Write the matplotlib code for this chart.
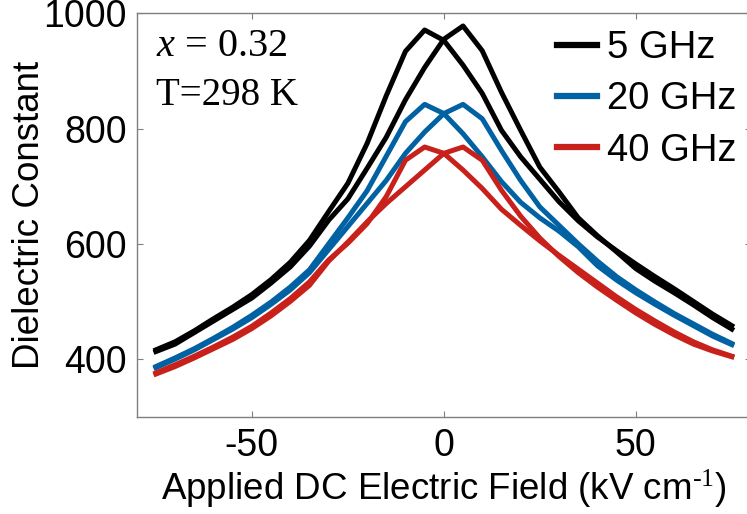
import numpy as np
import matplotlib
matplotlib.use("Agg")
import matplotlib.pyplot as plt

plt.rcParams["font.family"] = ["Liberation Sans", "DejaVu Sans"]
plt.rcParams["axes.unicode_minus"] = False
plt.rcParams["mathtext.fontset"] = "custom"
plt.rcParams["mathtext.rm"] = "Liberation Serif"
plt.rcParams["mathtext.it"] = "Liberation Serif:italic"

# Applied DC field (kV/cm), sampled every 5 kV/cm
field = np.arange(-75, 80, 5)

# Dielectric constant: branch with peak at negative field / at positive field
eps_5ghz_neg = [416, 430, 449, 470, 490, 512, 538, 568, 606, 656, 705, 774, 857, 934, 971, 953,
                910, 861, 797, 751, 712, 673, 640, 612, 588, 565, 543, 522, 500, 478, 458]
eps_5ghz_pos = [413, 426, 446, 466, 486, 506, 532, 560, 596, 641, 678, 731, 785, 850, 906, 955,
                978, 935, 863, 797, 733, 690, 645, 614, 586, 557, 535, 515, 494, 472, 452]

eps_20ghz_neg = [387, 402, 418, 436, 455, 476, 499, 525, 555, 600, 645, 692, 752, 812, 842, 826,
                 791, 751, 708, 672, 645, 622, 595, 562, 537, 515, 495, 476, 458, 440, 425]
eps_20ghz_pos = [385, 400, 416, 434, 452, 472, 495, 520, 550, 590, 630, 670, 710, 757, 794, 826,
                 842, 817, 762, 710, 664, 632, 600, 570, 543, 520, 499, 479, 461, 443, 427]

eps_40ghz_neg = [376, 390, 405, 421, 438, 457, 480, 505, 534, 572, 601, 635, 682, 745, 768, 757,
                 728, 696, 660, 632, 605, 580, 556, 532, 508, 486, 466, 447, 430, 416, 405]
eps_40ghz_pos = [374, 387, 402, 418, 434, 453, 475, 500, 528, 570, 603, 638, 670, 699, 728, 757,
                 768, 745, 693, 648, 610, 578, 550, 525, 502, 480, 460, 442, 426, 414, 404]

labels = ["5 GHz", "20 GHz", "40 GHz"]
colors = ["#000000", "#0061a3", "#c8211b"]
series = [(eps_5ghz_neg, eps_5ghz_pos), (eps_20ghz_neg, eps_20ghz_pos),
          (eps_40ghz_neg, eps_40ghz_pos)]

W, H = 747, 514
fig = plt.figure(figsize=(W / 100, H / 100), dpi=100)
ax = fig.add_axes([136.7 / W, 97.3 / H, (751 - 136.7) / W, 403.4 / H])

for (neg, pos), c, lab in zip(series, colors, labels):
    ax.plot(field, neg, color=c, lw=3.6, label=lab)
    ax.plot(field, pos, color=c, lw=3.6)

ax.set_xlim(-80, 80)
ax.set_ylim(300, 1000)
ax.set_xticks([-50, 0, 50])
ax.set_yticks([400, 600, 800, 1000])

grey = "#7f7f7f"
for s in ax.spines.values():
    s.set_color(grey)
    s.set_linewidth(1.0)
ax.tick_params(direction="in", length=4, width=0.8, color=grey, labelsize=27,
               top=True, right=True, labelcolor="black")
ax.tick_params(axis="y", pad=7)
ax.tick_params(axis="x", pad=8)

ax.set_xlabel("Applied DC Electric Field (kV cm$^{\\text{-1}}$)", fontsize=26.5, labelpad=3)
ax.set_ylabel("Dielectric Constant", fontsize=26.5, labelpad=-2.5)

leg = fig.legend(loc="upper left", bbox_to_anchor=(557 / W, 1 - 30 / H),
                 bbox_transform=fig.transFigure, frameon=False, fontsize=27.5,
                 handlelength=1.05, handletextpad=0.25, labelspacing=0.40,
                 borderpad=0, borderaxespad=0)
for line in leg.get_lines():
    line.set_linewidth(4.5)

fig.text(156 / W, 1 - 56 / H, "$x$ = 0.32", family="Liberation Serif", fontsize=29,
         va="baseline", ha="left")
fig.text(156 / W, 1 - 105 / H, "T=298 K", family="Liberation Serif", fontsize=28,
         va="baseline", ha="left")

fig.savefig("out.png", dpi=100)
